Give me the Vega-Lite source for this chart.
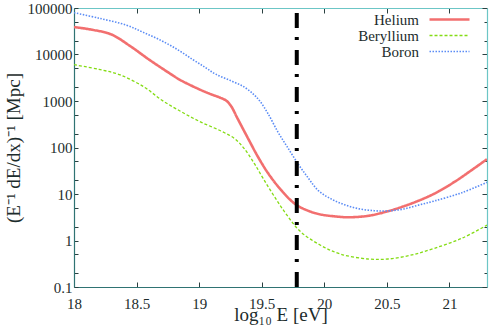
{
  "$schema": "https://vega.github.io/schema/vega-lite/v6.json",
  "width": 413,
  "height": 279,
  "autosize": "none",
  "padding": {"left": 74, "top": 8, "right": 4, "bottom": 40},
  "background": "white",
  "config": {
    "view": {"stroke": null},
    "font": "Liberation Serif",
    "axis": {
      "grid": false,
      "labelFont": "Liberation Serif",
      "labelFontSize": 15,
      "labelColor": "#1c2c2c",
      "titleFont": "Liberation Serif",
      "titleFontWeight": "normal",
      "titleColor": "#1c2c2c",
      "tickColor": "#2a4040",
      "tickWidth": 1,
      "domainWidth": 1.2,
      "labelFlush": false,
      "labelOverlap": false
    }
  },
  "layer": [
    {
      "data": {
        "values": [
          {"E": 18.0, "v": 38900, "s": "Helium"},
          {"E": 18.15, "v": 33900, "s": "Helium"},
          {"E": 18.3, "v": 26900, "s": "Helium"},
          {"E": 18.45, "v": 15100, "s": "Helium"},
          {"E": 18.6, "v": 7760, "s": "Helium"},
          {"E": 18.75, "v": 4170, "s": "Helium"},
          {"E": 18.85, "v": 2820, "s": "Helium"},
          {"E": 19.01, "v": 1740, "s": "Helium"},
          {"E": 19.1, "v": 1380, "s": "Helium"},
          {"E": 19.17, "v": 1175, "s": "Helium"},
          {"E": 19.22, "v": 1000, "s": "Helium"},
          {"E": 19.26, "v": 741, "s": "Helium"},
          {"E": 19.3, "v": 457, "s": "Helium"},
          {"E": 19.39, "v": 158, "s": "Helium"},
          {"E": 19.47, "v": 63, "s": "Helium"},
          {"E": 19.55, "v": 28.2, "s": "Helium"},
          {"E": 19.65, "v": 12.6, "s": "Helium"},
          {"E": 19.77, "v": 6.0, "s": "Helium"},
          {"E": 19.88, "v": 4.27, "s": "Helium"},
          {"E": 19.97, "v": 3.63, "s": "Helium"},
          {"E": 20.08, "v": 3.31, "s": "Helium"},
          {"E": 20.19, "v": 3.16, "s": "Helium"},
          {"E": 20.35, "v": 3.39, "s": "Helium"},
          {"E": 20.51, "v": 4.27, "s": "Helium"},
          {"E": 20.7, "v": 6.31, "s": "Helium"},
          {"E": 20.88, "v": 10.2, "s": "Helium"},
          {"E": 21.04, "v": 18.2, "s": "Helium"},
          {"E": 21.17, "v": 31.6, "s": "Helium"},
          {"E": 21.3, "v": 56, "s": "Helium"},

          {"E": 18.0, "v": 6030, "s": "Beryllium"},
          {"E": 18.2, "v": 4790, "s": "Beryllium"},
          {"E": 18.37, "v": 3630, "s": "Beryllium"},
          {"E": 18.56, "v": 2000, "s": "Beryllium"},
          {"E": 18.7, "v": 1050, "s": "Beryllium"},
          {"E": 18.85, "v": 603, "s": "Beryllium"},
          {"E": 19.01, "v": 355, "s": "Beryllium"},
          {"E": 19.17, "v": 229, "s": "Beryllium"},
          {"E": 19.28, "v": 158, "s": "Beryllium"},
          {"E": 19.36, "v": 95, "s": "Beryllium"},
          {"E": 19.44, "v": 45.7, "s": "Beryllium"},
          {"E": 19.51, "v": 21.9, "s": "Beryllium"},
          {"E": 19.6, "v": 8.9, "s": "Beryllium"},
          {"E": 19.7, "v": 3.55, "s": "Beryllium"},
          {"E": 19.81, "v": 1.55, "s": "Beryllium"},
          {"E": 19.97, "v": 0.79, "s": "Beryllium"},
          {"E": 20.13, "v": 0.51, "s": "Beryllium"},
          {"E": 20.35, "v": 0.40, "s": "Beryllium"},
          {"E": 20.51, "v": 0.40, "s": "Beryllium"},
          {"E": 20.7, "v": 0.49, "s": "Beryllium"},
          {"E": 20.88, "v": 0.68, "s": "Beryllium"},
          {"E": 21.1, "v": 1.12, "s": "Beryllium"},
          {"E": 21.3, "v": 2.14, "s": "Beryllium"},

          {"E": 18.0, "v": 79400, "s": "Boron"},
          {"E": 18.2, "v": 60300, "s": "Boron"},
          {"E": 18.42, "v": 42700, "s": "Boron"},
          {"E": 18.55, "v": 30200, "s": "Boron"},
          {"E": 18.69, "v": 20400, "s": "Boron"},
          {"E": 18.83, "v": 12600, "s": "Boron"},
          {"E": 18.95, "v": 7760, "s": "Boron"},
          {"E": 19.05, "v": 5250, "s": "Boron"},
          {"E": 19.13, "v": 3800, "s": "Boron"},
          {"E": 19.25, "v": 2750, "s": "Boron"},
          {"E": 19.36, "v": 2000, "s": "Boron"},
          {"E": 19.44, "v": 1350, "s": "Boron"},
          {"E": 19.49, "v": 955, "s": "Boron"},
          {"E": 19.55, "v": 537, "s": "Boron"},
          {"E": 19.63, "v": 214, "s": "Boron"},
          {"E": 19.7, "v": 107, "s": "Boron"},
          {"E": 19.79, "v": 44.7, "s": "Boron"},
          {"E": 19.87, "v": 22.4, "s": "Boron"},
          {"E": 19.95, "v": 12.0, "s": "Boron"},
          {"E": 20.05, "v": 7.94, "s": "Boron"},
          {"E": 20.16, "v": 5.89, "s": "Boron"},
          {"E": 20.28, "v": 4.79, "s": "Boron"},
          {"E": 20.4, "v": 4.37, "s": "Boron"},
          {"E": 20.5, "v": 4.32, "s": "Boron"},
          {"E": 20.62, "v": 4.68, "s": "Boron"},
          {"E": 20.75, "v": 5.75, "s": "Boron"},
          {"E": 20.88, "v": 7.08, "s": "Boron"},
          {"E": 21.1, "v": 10.7, "s": "Boron"},
          {"E": 21.3, "v": 17.8, "s": "Boron"}
        ]
      },
      "mark": {"type": "line", "interpolate": "catmull-rom", "clip": true},
      "encoding": {
        "x": {
          "field": "E",
          "type": "quantitative",
          "scale": {"domain": [18, 21.3], "nice": false, "zero": false},
          "axis": {
            "orient": "bottom",
            "values": [18, 18.5, 19, 19.5, 20, 20.5, 21],
            "format": "~g",
            "tickSize": -5,
            "labelPadding": 14,
            "domainColor": "#2f7373",
            "title": "log₁₀ E [eV]",
            "titleFontSize": 19,
            "titlePadding": -6
          }
        },
        "y": {
          "field": "v",
          "type": "quantitative",
          "scale": {"type": "log", "domain": [0.1, 100000], "nice": false},
          "axis": {
            "orient": "left",
            "values": [0.1, 0.2, 0.5, 1, 2, 5, 10, 20, 50, 100, 200, 500, 1000, 2000, 5000, 10000, 20000, 50000, 100000],
            "labelExpr": "abs(log(datum.value)/LN10 - round(log(datum.value)/LN10)) < 0.001 ? format(datum.value, '~g') : ''",
            "tickSize": -4,
            "labelPadding": 6,
            "domainColor": "#2f7373",
            "title": "(E⁻¹ dE/dx)⁻¹ [Mpc]",
            "titleFontSize": 19,
            "titlePadding": 4
          }
        },
        "color": {
          "field": "s",
          "type": "nominal",
          "scale": {"domain": ["Helium", "Beryllium", "Boron"], "range": ["#f26f6f", "#84dc14", "#5b8cf5"]},
          "legend": {
            "orient": "none",
            "legendX": 368,
            "legendY": 4,
            "title": null,
            "padding": 0,
            "symbolType": "M-4,0H4",
            "symbolSize": 100,
            "labelFont": "Liberation Serif",
            "labelFontSize": 15,
            "labelColor": "#1c2c2c",
            "labelAlign": "right",
            "labelOffset": -38,
            "rowPadding": -2
          }
        },
        "strokeDash": {
          "field": "s",
          "type": "nominal",
          "scale": {"domain": ["Helium", "Beryllium", "Boron"], "range": [[1, 0], [3, 2], [1.5, 1.5]]}
        },
        "strokeWidth": {
          "field": "s",
          "type": "nominal",
          "scale": {"type": "ordinal", "domain": ["Helium", "Beryllium", "Boron"], "range": [2.6, 1.3, 1.6]}
        }
      }
    },
    {
      "data": {"values": [{"E": 19.78}]},
      "mark": {"type": "rule", "color": "black", "strokeWidth": 4, "strokeDash": [15, 9, 3, 10], "strokeDashOffset": -5},
      "encoding": {
        "x": {
          "field": "E",
          "type": "quantitative",
          "axis": {
            "orient": "top",
            "values": [18, 18.5, 19, 19.5, 20, 20.5, 21],
            "labels": false,
            "tickSize": -5,
            "domainColor": "#6cc6c6",
            "title": null
          }
        },
        "y": {
          "datum": 100000,
          "type": "quantitative",
          "axis": {
            "orient": "right",
            "values": [0.1, 0.2, 0.5, 1, 2, 5, 10, 20, 50, 100, 200, 500, 1000, 2000, 5000, 10000, 20000, 50000, 100000],
            "labels": false,
            "tickSize": {"condition": {"test": "abs(log(datum.value)/LN10 - round(log(datum.value)/LN10)) < 0.001", "value": -5}, "value": -3},
            "domainColor": "#6cc6c6",
            "title": null
          }
        },
        "y2": {"datum": 0.1}
      }
    }
  ],
  "resolve": {"axis": {"x": "independent", "y": "independent"}}
}
